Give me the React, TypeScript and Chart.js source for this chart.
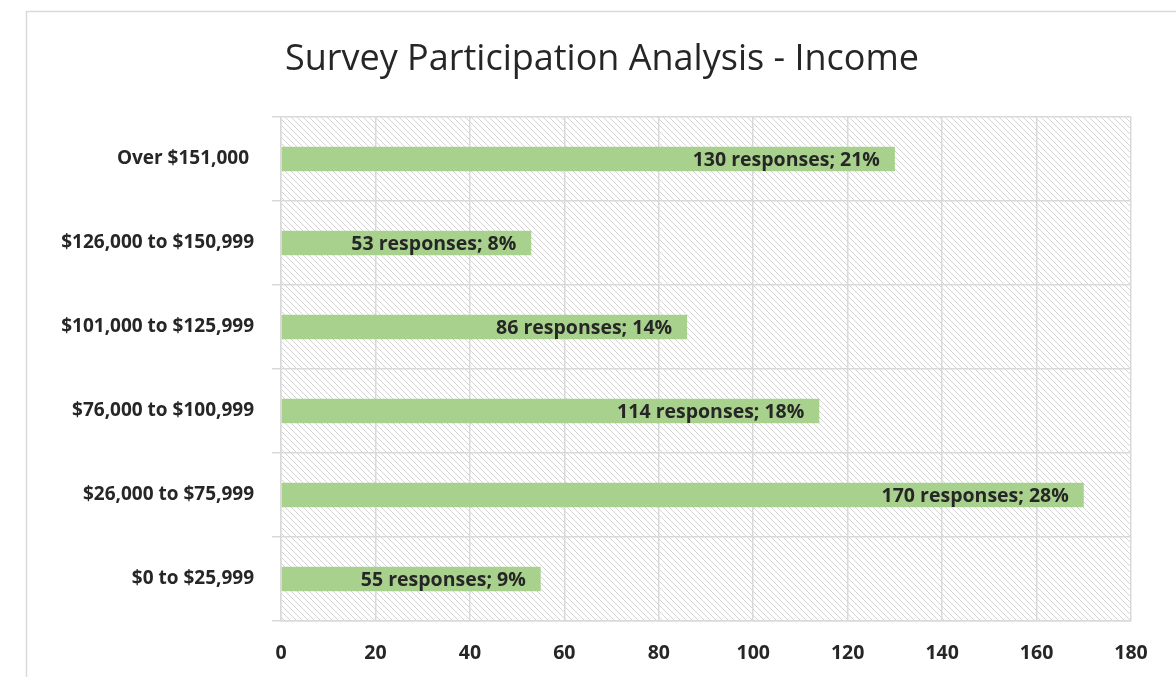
import React, { useEffect, useRef } from "react";
import { Chart, registerables } from "chart.js";

Chart.register(...registerables);

const categories: string[] = [
  "Over $151,000 ",
  "$126,000 to $150,999",
  "$101,000 to $125,999",
  "$76,000 to $100,999",
  "$26,000 to $75,999",
  "$0 to $25,999",
];
const responses: number[] = [130, 53, 86, 114, 170, 55];
const percents: number[] = [21, 8, 14, 18, 28, 9];
const xTicks: number[] = [0, 20, 40, 60, 80, 100, 120, 140, 160, 180];
const titleText = "Survey Participation Analysis - Income";

const FONT = "'Open Sans', 'Noto Sans', sans-serif";
const TEXT = "#262626";
const GRID = "#d9d9d9";

function makePattern(): CanvasPattern | string {
  const c = document.createElement("canvas");
  c.width = 6;
  c.height = 6;
  const g = c.getContext("2d");
  if (!g) return "#fff";
  g.fillStyle = "#ffffff";
  g.fillRect(0, 0, 6, 6);
  g.strokeStyle = "#d4d4d4";
  g.lineWidth = 1;
  g.beginPath();
  g.moveTo(-1, -1);
  g.lineTo(7, 7);
  g.moveTo(-1, 5);
  g.lineTo(1, 7);
  g.moveTo(5, -1);
  g.lineTo(7, 1);
  g.stroke();
  const ctx = document.createElement("canvas").getContext("2d");
  return ctx ? (ctx.createPattern(c, "repeat") as CanvasPattern) : "#fff";
}

export default function App() {
  const ref = useRef<HTMLCanvasElement | null>(null);

  useEffect(() => {
    document.body.style.margin = "0";
    if (!ref.current) return;
    const pattern = makePattern();

    const bgPlugin = {
      id: "bgPlugin",
      beforeDraw(chart: any) {
        const { ctx, chartArea } = chart;
        ctx.save();
        ctx.fillStyle = "#ffffff";
        ctx.fillRect(0, 0, chart.width, chart.height);
        ctx.strokeStyle = GRID;
        ctx.lineWidth = 1.5;
        ctx.strokeRect(26.5, 11.5, 1300, 800);
        ctx.fillStyle = pattern;
        ctx.fillRect(
          chartArea.left,
          chartArea.top,
          chartArea.right - chartArea.left,
          chartArea.bottom - chartArea.top
        );
        ctx.font = `36px ${FONT}`;
        ctx.fillStyle = TEXT;
        ctx.textAlign = "center";
        ctx.textBaseline = "middle";
        ctx.fillText(titleText, 602, 59.6);
        ctx.restore();
      },
    };

    const labelPlugin = {
      id: "labelPlugin",
      afterDatasetsDraw(chart: any) {
        const { ctx } = chart;
        const meta = chart.getDatasetMeta(0);
        ctx.save();
        ctx.font = `bold 19.5px ${FONT}`;
        ctx.fillStyle = TEXT;
        ctx.textAlign = "right";
        ctx.textBaseline = "middle";
        meta.data.forEach((bar: any, i: number) => {
          ctx.fillText(
            `${responses[i]} responses; ${percents[i]}%`,
            bar.x - 15,
            bar.y + 1
          );
        });
        ctx.restore();
      },
    };

    const chart = new Chart(ref.current, {
      type: "bar",
      data: {
        labels: categories,
        datasets: [
          {
            data: responses,
            backgroundColor: "#a9d18e",
            borderWidth: 0,
            barPercentage: 0.29,
            categoryPercentage: 1,
          },
        ],
      },
      options: {
        indexAxis: "y",
        animation: false,
        responsive: false,
        maintainAspectRatio: false,
        layout: { padding: { left: 0, right: 45, top: 117, bottom: 0 } },
        plugins: {
          legend: { display: false },
          tooltip: { enabled: false },
          title: { display: false },
        },
        scales: {
          x: {
            min: 0,
            max: 180,
            afterBuildTicks(axis: any) {
              axis.ticks = xTicks.map((v) => ({ value: v }));
            },
            afterFit(axis: any) {
              axis.height = 56;
            },
            grid: { color: GRID, lineWidth: 1.5, drawTicks: false },
            border: { color: GRID, width: 1.5 },
            ticks: {
              color: TEXT,
              padding: 21,
              font: { family: FONT, size: 19.5, weight: "bold" },
            },
          },
          y: {
            afterFit(axis: any) {
              axis.width = 281;
            },
            grid: { color: GRID, lineWidth: 1.5, offset: true, tickLength: 9 },
            border: { color: GRID, width: 1.5 },
            ticks: {
              color: TEXT,
              padding: 18,
              font: { family: FONT, size: 19, weight: "bold" },
            },
          },
        },
      },
      plugins: [bgPlugin, labelPlugin],
    });
    return () => chart.destroy();
  }, []);

  return (
    <div style={{ width: 1176, height: 677 }}>
      <canvas ref={ref} width={1176} height={677} />
    </div>
  );
}
